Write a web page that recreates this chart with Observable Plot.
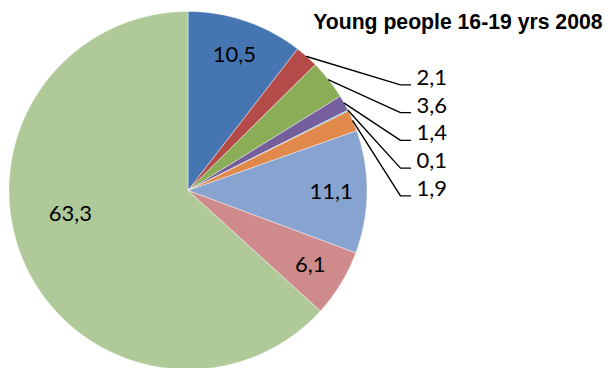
<!DOCTYPE html>
<html>
<head>
<meta charset="utf-8">
<script src="https://cdn.jsdelivr.net/npm/d3@7"></script>
<script src="https://cdn.jsdelivr.net/npm/@observablehq/plot@0.6"></script>
<style>
  body { margin: 0; background: #fff; }
  #chart svg { display: block; }
</style>
</head>
<body>
<div id="chart"></div>
<script>
// Shares (%) of young people 16-19, clockwise from 12 o'clock
const title = "Young people 16-19 yrs 2008";
const sliceKeys = ["s1", "s2", "s3", "s4", "s5", "s6", "s7", "s8", "s9"];
const shares = [10.5, 2.1, 3.6, 1.4, 0.1, 1.9, 11.1, 6.1, 63.3];
const sliceColors = ["#4676b2", "#b54b48", "#8cad57", "#745e9c", "#4aa8c4", "#e0894a", "#87a3cf", "#cf8b8c", "#afca98"];
// slices whose value is written outside with a leader line
const calloutKeys = ["s2", "s3", "s4", "s5", "s6"];

const fmt = v => d3.format(".1f")(v).replace(".", ",");

const slices = sliceKeys.map((key, i) => ({key, value: shares[i], color: sliceColors[i]}));
const arcs = d3.pie().sort(null).value(d => d.value).startAngle(0).endAngle(2 * Math.PI)(slices);

// polygon outline of each wedge in unit-circle coordinates (y up)
const wedgePoints = arcs.flatMap(a => {
  const pts = [{key: a.data.key, color: a.data.color, x: 0, y: 0}];
  const n = Math.max(2, Math.ceil((a.endAngle - a.startAngle) / (Math.PI / 360)));
  for (let k = 0; k <= n; k++) {
    const t = a.startAngle + (a.endAngle - a.startAngle) * k / n;
    pts.push({key: a.data.key, color: a.data.color, x: Math.sin(t), y: Math.cos(t)});
  }
  pts.push({key: a.data.key, color: a.data.color, x: 0, y: 0});
  return pts;
});

const mid = a => (a.startAngle + a.endAngle) / 2;
const largest = d3.max(shares);

// values written inside the wedges
const innerLabels = arcs
  .filter(a => !calloutKeys.includes(a.data.key))
  .map(a => {
    const big = a.data.value === largest;
    const t = mid(a) + (big ? 0.22 : 0);
    const r = big ? 0.67 : 0.8;
    return {x: r * Math.sin(t), y: r * Math.cos(t), text: fmt(a.data.value)};
  });

// callouts stacked down the right-hand side
const elbowX = 1.187, endX = 1.243, topY = 0.59, stepY = 0.155;
const callouts = arcs
  .filter(a => calloutKeys.includes(a.data.key))
  .map((a, i) => ({
    key: a.data.key,
    sx: Math.sin(mid(a)), sy: Math.cos(mid(a)),
    ly: topY - i * stepY,
    text: fmt(a.data.value)
  }));
const leaderPoints = callouts.flatMap(c => [
  {key: c.key, x: c.sx, y: c.sy},
  {key: c.key, x: elbowX, y: c.ly},
  {key: c.key, x: endX, y: c.ly}
]);

const cx = 187.5, cy = 190, R = 179;
const font = "Lato, 'Open Sans', sans-serif";

const chart = Plot.plot({
  width: 605,
  height: 368,
  margin: 0,
  x: {domain: [-1, 1], range: [cx - R, cx + R], axis: null},
  y: {domain: [-1, 1], range: [cy + R, cy - R], axis: null},
  color: {type: "identity"},
  style: {background: "#fff", overflow: "visible"},
  marks: [
    Plot.line(wedgePoints, {
      x: "x", y: "y", z: "key", fill: "color",
      stroke: "#fff", strokeWidth: 0.6, strokeOpacity: 0.7, curve: "linear"
    }),
    Plot.line(leaderPoints, {x: "x", y: "y", z: "key", stroke: "#000", strokeWidth: 1.4, curve: "linear"}),
    Plot.text(callouts, {
      x: endX, y: "ly", text: "text", textAnchor: "start", dx: 6, dy: -7,
      fontSize: 22, fontFamily: font, fill: "#000"
    }),
    Plot.text(innerLabels, {
      x: "x", y: "y", text: "text", fontSize: 22, fontFamily: font, fill: "#000"
    }),
    Plot.text([title], {
      frameAnchor: "top-right", dx: -3, dy: 13, text: d => d, textAnchor: "end",
      fontSize: 21.2, fontWeight: "bold", fontFamily: "'Liberation Sans', Arial, sans-serif", fill: "#000"
    })
  ]
});

document.getElementById("chart").append(chart);
</script>
</body>
</html>
